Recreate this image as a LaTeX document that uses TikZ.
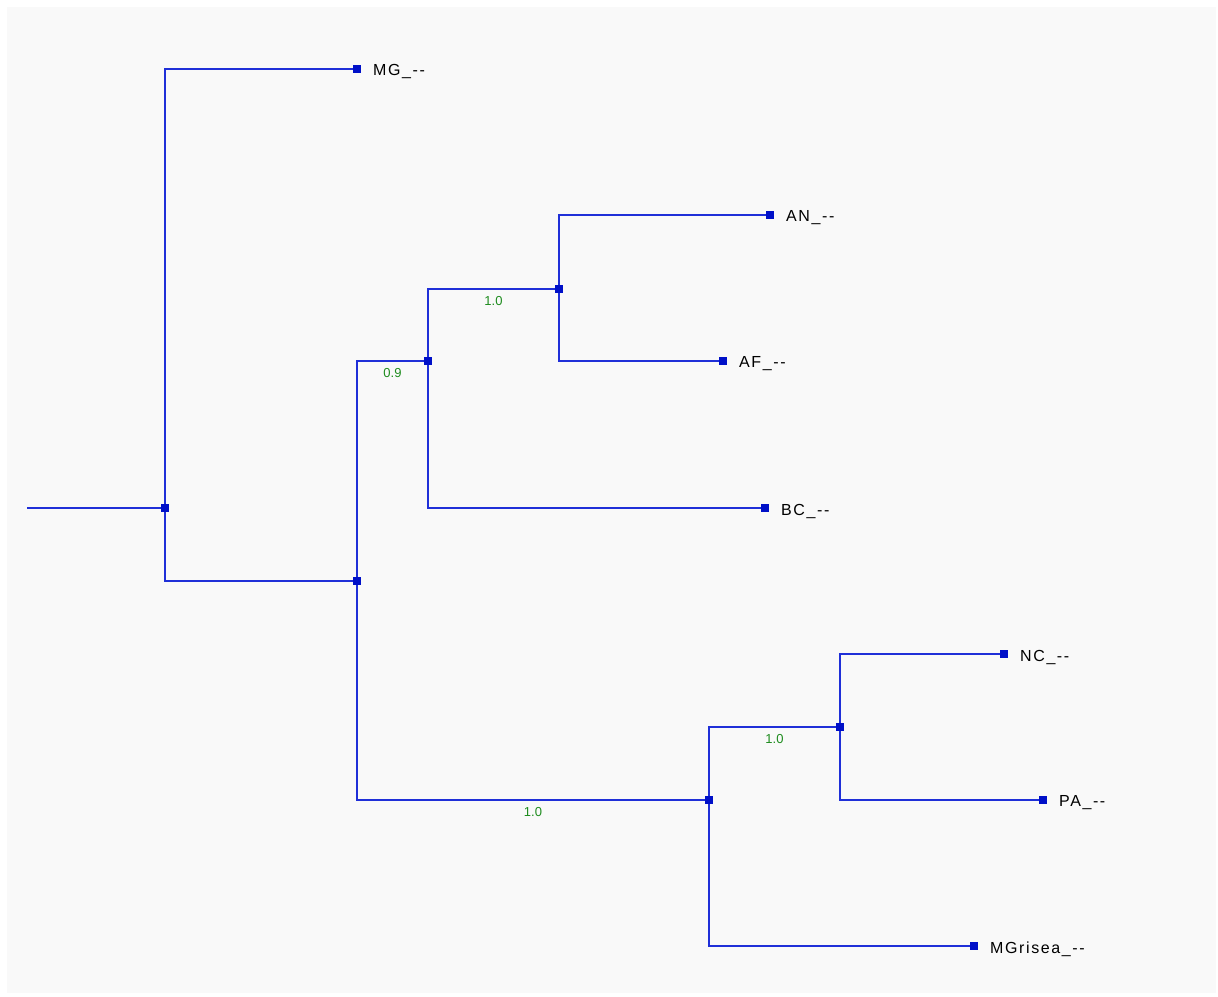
\documentclass[tikz,border=0pt]{standalone}
\usepackage{fontspec}
\setmainfont{Liberation Sans}
\newfontfamily\leaffont[LetterSpace=10]{Liberation Sans}
\definecolor{treeblue}{HTML}{1F2FD8}
\definecolor{markblue}{HTML}{0010C8}
\definecolor{suppgreen}{HTML}{1E8C1E}
\definecolor{panelgray}{HTML}{F9F9F9}
\tikzset{
  branch/.style={draw=treeblue, line width=2.2pt},
  marker/.style={fill=markblue, inner sep=0pt, minimum size=7.5pt, shape=rectangle},
  leaflabel/.style={anchor=west, inner sep=0pt, font=\leaffont\fontsize{16}{18}\selectfont, text=black},
  support/.style={inner sep=0pt, font=\fontsize{13}{15}\selectfont, text=suppgreen}
}
\begin{document}
\begin{tikzpicture}[x=1pt,y=-1pt]
\useasboundingbox (0,0) rectangle (1218,996);
\fill[white] (0,0) rectangle (1218,996);
\fill[panelgray] (7,7) rectangle (1216,993);
% coordinates
\coordinate (root) at (27,508);
\coordinate (A) at (165,508);
\coordinate (B) at (357,581);
\coordinate (C) at (428,361);
\coordinate (D) at (559,289);
\coordinate (E) at (709,800);
\coordinate (F) at (840,727);
\coordinate (MG) at (357,69);
\coordinate (AN) at (770,215);
\coordinate (AF) at (723,361);
\coordinate (BC) at (765,508);
\coordinate (NC) at (1004,654);
\coordinate (PA) at (1043,800);
\coordinate (MGr) at (974,946);
% branches
\draw[branch] (root) -- (A);
\draw[branch] (A) |- (MG);
\draw[branch] (A) |- (B);
\draw[branch] (B) |- (C) node[pos=0.75, below=6pt, support] (s1) {0.9};
\draw[branch] (C) |- (D) node[pos=0.75, below=6pt, support] (s2) {1.0};
\draw[branch] (D) |- (AN);
\draw[branch] (D) |- (AF);
\draw[branch] (C) |- (BC);
\draw[branch] (B) |- (E) node[pos=0.75, below=6pt, support] (s3) {1.0};
\draw[branch] (E) |- (F) node[pos=0.75, below=6pt, support] (s4) {1.0};
\draw[branch] (F) |- (NC);
\draw[branch] (F) |- (PA);
\draw[branch] (E) |- (MGr);
% markers
\foreach \p in {A,B,C,D,E,F,MG,AN,AF,BC,NC,PA,MGr}
  \node[marker] (m\p) at (\p) {};
% leaf labels
\node[leaflabel] (lMG) at ([xshift=16pt,yshift=-3pt]MG) {MG\_--};
\node[leaflabel] (lAN) at ([xshift=16pt,yshift=-3pt]AN) {AN\_--};
\node[leaflabel] (lAF) at ([xshift=16pt,yshift=-3pt]AF) {AF\_--};
\node[leaflabel] (lBC) at ([xshift=16pt,yshift=-3pt]BC) {BC\_--};
\node[leaflabel] (lNC) at ([xshift=16pt,yshift=-3pt]NC) {NC\_--};
\node[leaflabel] (lPA) at ([xshift=16pt,yshift=-3pt]PA) {PA\_--};
\node[leaflabel] (lMGr) at ([xshift=16pt,yshift=-3pt]MGr) {MGrisea\_--};
\end{tikzpicture}
\end{document}
